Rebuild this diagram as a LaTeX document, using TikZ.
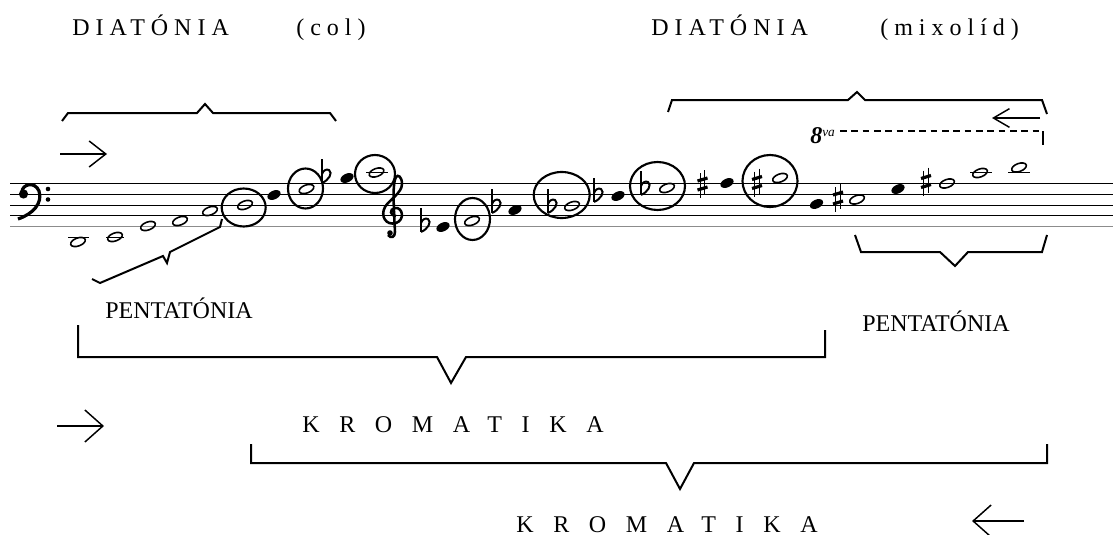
\documentclass[tikz,border=0pt]{standalone}
\usepackage{fontspec}
\setmainfont{Liberation Serif}
\newfontfamily\spacedfont[LetterSpace=25]{Liberation Serif}
\newfontfamily\widefont[LetterSpace=82]{Liberation Serif}
\usetikzlibrary{shapes.geometric,arrows.meta}

\tikzset{
  staffline/.style={line width=0.8pt},
  brace/.style={line width=1.5pt, line join=miter},
  ring/.style={line width=1.6pt},
  dirarrow/.style={line width=1.1pt, -{Straight Barb[length=12.5pt,width=19.5pt]}},
  bigarrow/.style={line width=1.1pt, -{Straight Barb[length=13.5pt,width=24pt]}},
  wnote/.style={ellipse, draw, line width=1.2pt, inner sep=0, minimum width=11.5pt, minimum height=6pt, rotate=20},
  fnote/.style={ellipse, fill, inner sep=0, minimum width=10.5pt, minimum height=6.5pt, rotate=25},
  flatsign/.pic={
    \draw[line width=1pt] (0,-24) -- (0,0);
    \draw[line width=1.5pt] (0,0) .. controls (7,-3) and (11,-10) .. (7,-13)
      .. controls (4,-14.5) and (1,-12) .. (0,-9);
  },
  sharpsign/.pic={
    \draw[line width=1pt] (-2.2,-11) -- (-2.2,14) (2.2,-14) -- (2.2,11);
    \draw[line width=2.4pt] (-5,-3) -- (5,-6) (-5,6) -- (5,3);
  },
  title/.style={font=\spacedfont\fontsize{18}{18}\selectfont, inner sep=0, anchor=base west},
  label/.style={font=\fontsize{18}{18}\selectfont, inner sep=0, anchor=base west},
  chroma/.style={font=\widefont\fontsize{18}{18}\selectfont, inner sep=0, anchor=base west}
}

\begin{document}
\begin{tikzpicture}[x=0.75pt, y=-0.75pt]
\def\wn{node [wnote] }
\def\fn{node [fnote] }
\useasboundingbox (0,0) rectangle (1113,535);

% staff
\foreach \k in {0,...,3}
  \draw[staffline] (10,183.5+10.8*\k) -- (1113,183.5+10.8*\k);
\draw[staffline, black!45] (10,226.7) -- (1113,226.7);

% bass clef
\fill (23.5,194) circle [radius=4.6];
\draw[line width=2.4pt] (22,192) .. controls (22,184) and (35,181) .. (39,191)
  .. controls (43,203) and (33,214) .. (18,219);
\fill (48,189) circle [radius=2.3];
\fill (48,199.5) circle [radius=2.3];

% treble clef
\draw[line width=1.9pt] (396,216) .. controls (390,216) and (389,209) .. (395,208)
  .. controls (403,207) and (405,220) .. (396,223)
  .. controls (386,226) and (380,216) .. (385,207)
  .. controls (389,200) and (402,193) .. (402,184)
  .. controls (402,177) and (398,174) .. (396,177)
  .. controls (393,183) and (393,195) .. (395,232)
  .. controls (395,237) and (391,239) .. (388,235);
\fill (390,233) circle [radius=2.8];

% ledger lines
\draw[staffline] (68,237.5) -- (89,237.5);
\draw[staffline] (106,237.5) -- (124,237.5);
\draw[staffline] (366,172.7) -- (388,172.7);
\draw[staffline] (970,172.7) -- (992,172.7);
\draw[staffline] (1008,172.7) -- (1030,172.7);

% notes, bass
\draw (78,242) \wn (n1) {};
\draw (115,237) \wn (n2) {};
\draw (148,226) \wn (n3) {};
\draw (180,221) \wn (n4) {};
\draw (210,211) \wn (n5) {};
\draw (245,205) \wn (n6) {};
\draw (274,195) \fn (n7) {};
\draw (306.5,189) \wn (n8) {};
\draw (347,178) \fn (n9) {};
\draw (376.5,172.5) \wn (n10) {};

% notes, treble
\draw (443,227) \fn (n11) {};
\draw (472,221) \wn (n12) {};
\draw (515,210) \fn (n13) {};
\draw (572,206) \wn (n14) {};
\draw (618,196) \fn (n15) {};
\draw (667,188) \wn (n16) {};
\draw (727,183) \fn (n17) {};
\draw (780,178) \wn (n18) {};
\draw (816.5,204) \fn (n19) {};
\draw (857,199.5) \wn (n20) {};
\draw (898,189) \fn (n21) {};
\draw (947,183.5) \wn (n22) {};
\draw (980,173) \wn (n23) {};
\draw (1019,167.5) \wn (n24) {};

% accidentals
\pic (f9) at (322,183) {flatsign};
\pic (f11) at (421,232) {flatsign};
\pic (f13) at (492,213) {flatsign};
\pic (f14) at (548,213) {flatsign};
\pic (f15) at (594,202) {flatsign};
\pic (f16) at (641,195) {flatsign};
\pic (s17) at (702.5,184) {sharpsign};
\pic (s18) at (757,182.5) {sharpsign};
\pic (s20) at (838,198) {sharpsign};
\pic (s22) at (926,181.5) {sharpsign};

% rings
\draw[ring] (243.7,207.5) ellipse [x radius=22, y radius=19];
\draw[ring] (305.5,188.5) ellipse [x radius=17.5, y radius=20];
\draw[ring] (375,174) ellipse [x radius=20, y radius=19];
\draw[ring] (472.5,219) ellipse [x radius=17.5, y radius=21];
\draw[ring] (561.7,195) ellipse [x radius=28, y radius=23];
\draw[ring] (657.5,186) ellipse [x radius=27.5, y radius=24];
\draw[ring] (770,181) ellipse [x radius=27.5, y radius=26];

% 8va
\node[inner sep=0, anchor=base west] (ottava) at (810,143)
  {\fontsize{18}{18}\selectfont\bfseries\itshape 8\raisebox{5pt}{\fontsize{10}{10}\selectfont\mdseries va}};
\coordinate (ottstart) at (840,131);
\coordinate (ottend) at (1043,131);
\coordinate (otthook) at (1043,145);
\draw[line width=0.8pt, dash pattern=on 5pt off 3.5pt] (ottstart) -- (ottend);
\draw[line width=1pt] (ottend) -- (otthook);

% braces
\draw[brace] (62,121) -- (68,113) -- (197,113) -- (205,104) -- (213,113) -- (330,113) -- (336,121);
\draw[brace] (668,112) -- (672,100) -- (848,100) -- (857,92) -- (865,100) -- (1042,100) -- (1047,114);
\draw[brace] (855,235) -- (861,252) -- (940,252) -- (955,266) -- (968,252) -- (1042,252) -- (1047,235);
\draw[brace] (222,219) -- (220,227) -- (170,252) -- (167,263) -- (163,256) -- (100,283) -- (92,279);
\draw[brace] (78,325) -- (78,357) -- (437,357) -- (451,383) -- (466,357) -- (825,357) -- (825,330);
\draw[brace] (251,444) -- (251,463) -- (666,463) -- (680,489) -- (694,463) -- (1047,463) -- (1047,444);

% arrows
\coordinate (ar1a) at (60,154);
\coordinate (ar1b) at (107,154);
\coordinate (ar2a) at (1040,118);
\coordinate (ar2b) at (992,118);
\coordinate (ar3a) at (57,426);
\coordinate (ar3b) at (104,426);
\coordinate (ar4a) at (1024,521);
\coordinate (ar4b) at (972,521);
\draw[dirarrow] (ar1a) -- (ar1b);
\draw[line width=1.1pt, -{Straight Barb[length=12pt,width=14pt]}] (ar2a) -- (ar2b);
\draw[bigarrow] (ar3a) -- (ar3b);
\draw[bigarrow] (ar4a) -- (ar4b);

% texts
\node[title] (diacol) at (72,36) {DIATÓNIA};
\node[title] (col) at (296,36) {(col)};
\node[title] (diamix) at (651,36) {DIATÓNIA};
\node[title] (mix) at (880,36) {(mixolíd)};
\node[label] (pentl) at (105,318) {PENTATÓNIA};
\node[label] (pentr) at (862,331) {PENTATÓNIA};
\node[chroma] (kroma) at (302,432) {KROMATIKA};
\node[chroma] (kromb) at (516,532) {KROMATIKA};
\end{tikzpicture}
\end{document}
